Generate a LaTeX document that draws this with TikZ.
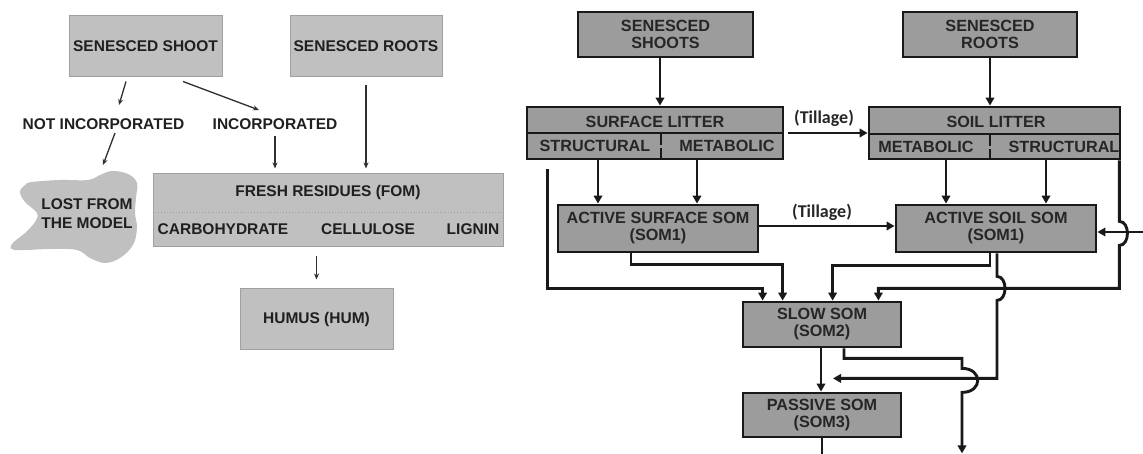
\documentclass[tikz,border=0pt]{standalone}
\usepackage{fontspec}
\setmainfont{Liberation Sans}
\newfontfamily\calib{Carlito}
\usetikzlibrary{arrows.meta,calc}
\definecolor{lfill}{HTML}{C0C0C0}
\definecolor{lbord}{HTML}{A0A0A0}
\definecolor{rfill}{HTML}{9C9C9C}
\definecolor{larrc}{HTML}{303030}
\begin{document}
\begin{tikzpicture}[x=1pt,y=-1pt,
 lbox/.style={draw=lbord, fill=lfill, line width=1pt, inner sep=0pt, font=\fontsize{15.5}{19}\selectfont\bfseries, text=black!88},
 ltext/.style={inner sep=0pt, font=\fontsize{15.5}{19}\selectfont\bfseries, text=black!88},
 rbox/.style={draw=black!90, fill=rfill, line width=2.8pt, inner sep=0pt, align=center, font=\fontsize{16.2}{17}\selectfont\bfseries, text=black!85},
 rtext/.style={inner sep=0pt, font=\fontsize{16.2}{17}\selectfont\bfseries, text=black!85},
 till/.style={inner sep=0pt, font=\fontsize{18}{20}\calib\bfseries, text=black!85},
 larr/.style={draw=larrc, line width=1.3pt, -{Stealth[length=6pt,width=5pt]}},
 rline/.style={draw=black!90, line width=2.9pt},
 rarr/.style={rline, -{Triangle[length=8pt,width=8.5pt]}},
]
\useasboundingbox (0,0) rectangle (1143,454);

% ---------------- left diagram ----------------
\node[lbox, minimum width=153pt, minimum height=61pt] (shoot) at (145.5,46.5) {SENESCED SHOOT};
\node[lbox, minimum width=152pt, minimum height=61pt] (roots) at (366,46.5) {SENESCED ROOTS};
\node[ltext] (notinc) at (103.5,124) {NOT INCORPORATED};
\node[ltext] (inc) at (275,124) {INCORPORATED};

\path[fill=lfill] plot[smooth cycle, tension=0.6] coordinates {(32,182) (60,180) (88,180) (100,175) (112,171) (128,174) (137,183) (136,198) (135,213) (137,228) (133,245) (120,258) (105,263) (90,258) (77,250) (50,249) (15,250) (12,244) (25,233) (35,222) (37,213) (25,202) (20,192) (25,185)};
\node[ltext, align=left] (lost) at (87,214) {LOST FROM\\THE MODEL};

\node[lbox, minimum width=350pt, minimum height=73pt] (fom) at (328,210.5) {};
\draw[lbord, dotted, line width=0.9pt] ($(fom.west)+(0,1.5)$) -- ($(fom.east)+(0,1.5)$);
\node[ltext] (fomt) at (328,192) {FRESH RESIDUES (FOM)};
\node[ltext] (carb) at (223,229) {CARBOHYDRATE};
\node[ltext] (cell) at (368,229) {CELLULOSE};
\node[ltext] (lig) at (473,229) {LIGNIN};

\node[lbox, minimum width=153pt, minimum height=60pt] (hum) at (316.5,319) {HUMUS (HUM)};

\draw[larr] ($(shoot.south)+(-19.5,4)$) -- ($(notinc.center)+(15.5,-19)$);
\draw[larr] ($(shoot.south)+(37.5,4)$) -- ($(inc.center)+(-16,-14)$);
\draw[larr] ($(notinc.center)+(11.5,9)$) -- ($(lost.center)+(16,-49)$);
\draw[larr] ($(inc.center)+(0,12)$) -- ($(inc.center |- fom.north)+(0,-5)$);
\draw[larr] ($(roots.south)+(0,8)$) -- ($(roots.south |- fom.north)+(0,-5)$);
\draw[larr] ($(fom.south -| hum.north)+(0,9)$) -- ($(hum.north)+(0,-9)$);

% ---------------- right diagram ----------------
\node[rbox, minimum width=175pt, minimum height=45pt] (rshoots) at (665.5,34.5) {SENESCED\\SHOOTS};
\node[rbox, minimum width=174pt, minimum height=45pt] (rroots) at (990,34.5) {SENESCED\\ROOTS};

\node[rbox, minimum width=256pt, minimum height=52pt] (surf) at (655,133) {};
\draw[line width=2.4pt, black!90] (surf.west) -- (surf.east);
\draw[line width=1.6pt, black!90, dash pattern=on 12pt off 3pt] ($(surf.center)+(6,0)$) -- ($(surf.south)+(6,0)$);
\node[rtext] (surft) at (655,121.5) {SURFACE LITTER};
\node[rtext] (sstr) at (595,146) {STRUCTURAL};
\node[rtext] (smet) at (727,146) {METABOLIC};

\node[rbox, minimum width=251pt, minimum height=52pt] (soil) at (994.5,133) {};
\draw[line width=2.4pt, black!90] ($(soil.west)+(0,1)$) -- ($(soil.east)+(0,1)$);
\draw[line width=1.6pt, black!90, dash pattern=on 12pt off 3pt] ($(soil.center)+(-4.5,1)$) -- ($(soil.south)+(-4.5,0)$);
\node[rtext] (soilt) at (996,122) {SOIL LITTER};
\node[rtext] (lmet) at (926,147) {METABOLIC};
\node[rtext] (lstr) at (1064,147) {STRUCTURAL};

\node[rbox, minimum width=200pt, minimum height=47pt] (asurf) at (658,228.5) {ACTIVE SURFACE SOM\\(SOM1)};
\node[rbox, minimum width=200pt, minimum height=47pt] (asoil) at (996,228.5) {ACTIVE SOIL SOM\\(SOM1)};
\node[rbox, minimum width=158pt, minimum height=45pt] (slow) at (822,324.5) {SLOW SOM\\(SOM2)};
\node[rbox, minimum width=158pt, minimum height=44pt] (passive) at (822,415) {PASSIVE SOM\\(SOM3)};

\node[till] (till1) at (824,118) {(Tillage)};
\node[till] (till2) at (822,212) {(Tillage)};
\coordinate (rin) at (1143,232);

\draw[rarr] ($(rshoots.south)+(-5.5,0)$) -- ($(rshoots.south |- surf.north)+(-5.5,0)$);
\draw[rarr] (rroots.south) -- (rroots.south |- soil.north);
\draw[rarr] ($(surf.east)+(4,0)$) -- (soil.west);
\draw[rarr] ($(surf.south)+(-57,0)$) -- ($(surf.south |- asurf.north)+(-57,0)$);
\draw[rarr] ($(surf.south)+(42,0)$) -- ($(surf.south |- asurf.north)+(42,0)$);
\draw[rarr] ($(soil.south)+(-48.5,0)$) -- ($(soil.south |- asoil.north)+(-48.5,0)$);
\draw[rarr] ($(soil.south)+(51.5,0)$) -- ($(soil.south |- asoil.north)+(51.5,0)$);
\draw[rarr] ($(asurf.east)+(0,-2.5)$) -- ($(asoil.west)+(0,-2.5)$);

\draw[rarr] ($(surf.south west)+(22,9)$) -- ++(0,119) -| ($(slow.north west)+(21,0)$);
\draw[rarr] ($(asurf.south)+(-27,0)$) -- ++(0,11) -| ($(slow.north west)+(41,0)$);
\draw[rarr] ($(asoil.south)+(-6,0)$) -- ++(0,12) -| ($(slow.north west)+(91,0)$);
\draw[rarr] ($(soil.south east)+(-2,0)$) -- ++(0,61) .. controls +(10.7,0) and +(10.7,0) .. ++(0,24) -- ++(0,43) -| ($(slow.north east)+(-24,0)$);
\draw[rarr] (rin) -- ($(asoil.east)+(0,3.5)$);
\draw[rarr] ($(asoil.south)+(1,0)$) -- ++(0,23) .. controls +(10.7,0) and +(10.7,0) .. ++(0,24) -- ++(0,78) -- ($(slow.south)+(11,30)$);
\draw[rarr] ($(slow.south)+(22,0)$) -- ++(0,10) -- ++(118,0) -- ++(0,10) .. controls +(21,0) and +(21,0) .. ++(0,24) -- ++(0,61);
\draw[rarr] ($(slow.south)+(-1,0)$) -- ($(passive.north)+(-1,0)$);
\draw[rline] ($(passive.south)+(0,0)$) -- ++(0,20);
\end{tikzpicture}
\end{document}
